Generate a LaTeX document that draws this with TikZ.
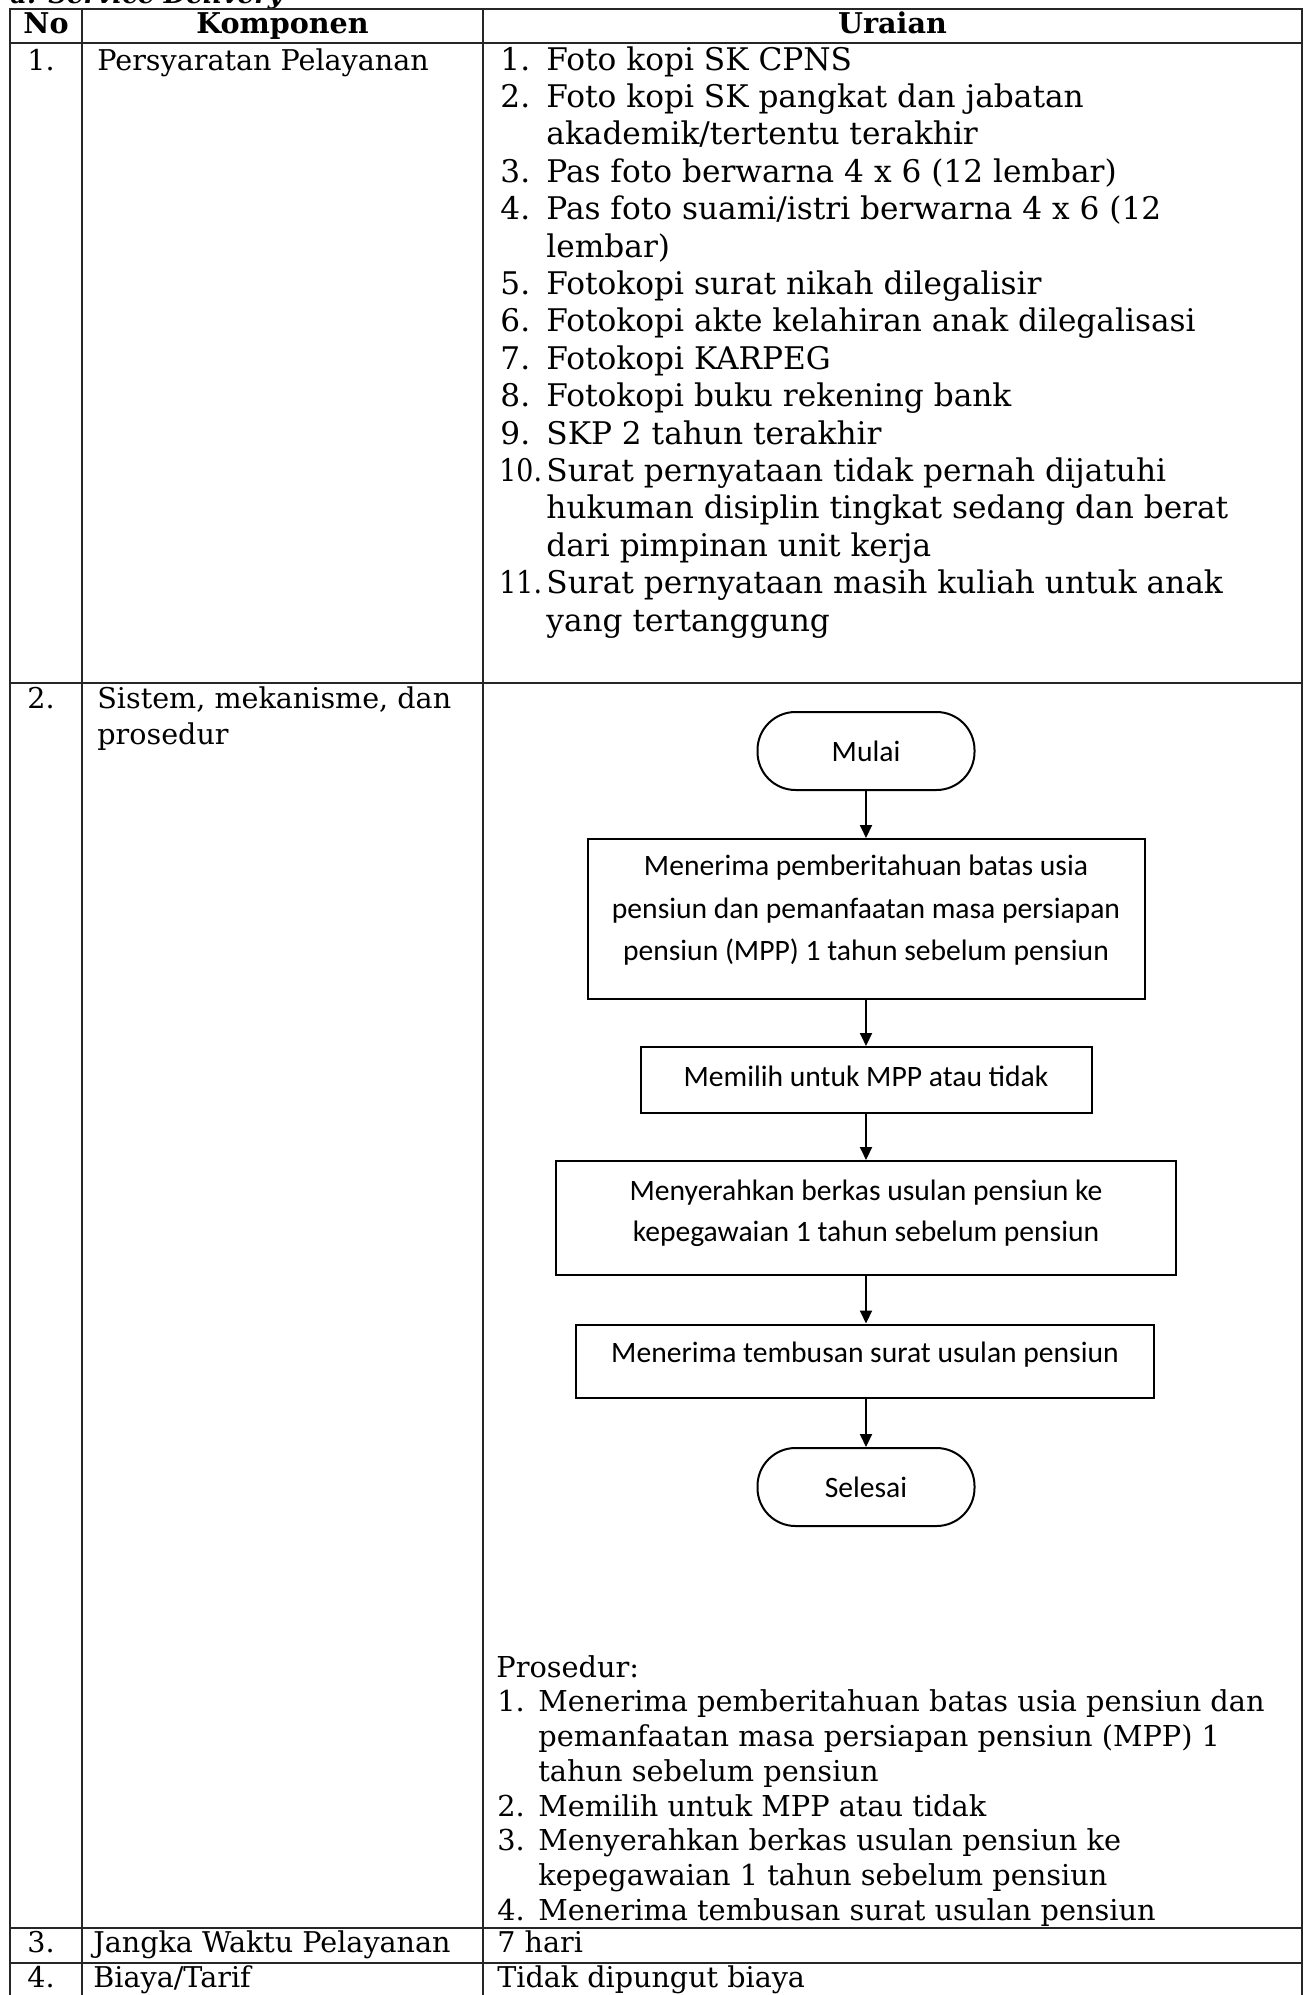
\documentclass[tikz,border=0pt]{standalone}
\usepackage{fontspec}
\usepackage{graphicx}
\setmainfont{DejaVu Serif}
\newfontfamily\flowfont{Carlito}
\usetikzlibrary{arrows.meta}

\begin{document}
\begin{tikzpicture}[x=0.5pt,y=-0.5pt,
  grid/.style={line width=1.1pt, draw=black!85},
  body/.style={inner sep=0pt, anchor=mid west, font=\fontsize{14.3}{18}\selectfont},
  list/.style={inner sep=0pt, anchor=mid west, font=\fontsize{15.6}{18.7}\selectfont},
  small/.style={inner sep=0pt, anchor=mid west, font=\fontsize{14.4}{17.35}\selectfont},
  head/.style={inner sep=0pt, anchor=mid, font=\bfseries\fontsize{14.3}{18}\selectfont},
  fbox/.style={draw, line width=1pt, inner sep=0pt, align=center,
    font=\flowfont\fontsize{14.8}{21.25}\selectfont},
  term/.style={fbox, rounded corners=19pt, minimum width=108.5pt, minimum height=39pt},
  flow/.style={line width=1pt, -{Triangle[length=6.5pt,width=6pt]}}]

\useasboundingbox (0,0) rectangle (1306,1995);

% section title, cut off by the page edge
\node[anchor=base west, inner sep=0pt, font=\bfseries\itshape\fontsize{13}{15}\selectfont]
  (title) at (10,4) {a. Service Delivery};

% table rules
\draw[grid] (10,1995) -- (10,9) -- (1302,9) -- (1302,1995);
\draw[grid] (82,9) -- (82,1995);
\draw[grid] (483,9) -- (483,1995);
\foreach \yy in {43,683,1928,1963}
  \draw[grid] (10,\yy) -- (1302,\yy);

% header
\node[head] (hNo) at (46,28) {No};
\node[head] (hKomp) at (282.5,28) {Komponen};
\node[head] (hUr) at (892.5,28) {Uraian};

% row 1: requirements
\node[body] (no1) at (27,65) {1.};
\node[body] (komp1) at (97,65) {Persyaratan Pelayanan};
\foreach \k/\n [count=\i] in {0/1, 1/2, 3/3, 4/4, 6/5, 7/6, 8/7, 9/8, 10/9}
  \node[list] (reqn\i) at (500,65+37.4*\k) {\n.};
\node[list] (reqn10) at (499,65+37.4*11) {\scalebox{0.86}[1]{10.}};
\node[list] (reqn11) at (499,65+37.4*14) {\scalebox{0.86}[1]{11.}};
\foreach \k/\t [count=\i] in {
  0/{Foto kopi SK CPNS},
  1/{Foto kopi SK pangkat dan jabatan},
  2/{akademik/tertentu terakhir},
  3/{Pas foto berwarna 4 x 6 (12 lembar)},
  4/{Pas foto suami/istri berwarna 4 x 6 (12},
  5/{lembar)},
  6/{Fotokopi surat nikah dilegalisir},
  7/{Fotokopi akte kelahiran anak dilegalisasi},
  8/{Fotokopi KARPEG},
  9/{Fotokopi buku rekening bank},
  10/{SKP 2 tahun terakhir},
  11/{Surat pernyataan tidak pernah dijatuhi},
  12/{hukuman disiplin tingkat sedang dan berat},
  13/{dari pimpinan unit kerja},
  14/{Surat pernyataan masih kuliah untuk anak},
  15/{yang tertanggung}}
  \node[list] (req\i) at (546,65+37.4*\k) {\t};

% row 2: system, mechanism and procedure
\node[body] (no2) at (27,703) {2.};
\node[body] (komp2a) at (97,703) {Sistem, mekanisme, dan};
\node[body] (komp2b) at (97,739) {prosedur};

% flowchart
\node[term] (mulai) at (866,751) {Mulai};
\node[fbox, minimum width=278.5pt, minimum height=80pt] (s1) at (866,919)
  {Menerima pemberitahuan batas usia\\pensiun dan pemanfaatan masa persiapan\\pensiun (MPP) 1 tahun sebelum pensiun\rule[-11pt]{0pt}{0pt}};
\node[fbox, minimum width=225.5pt, minimum height=33pt] (s2) at (866,1080)
  {Memilih untuk MPP atau tidak\rule[-4pt]{0pt}{0pt}};
\node[fbox, minimum width=310pt, minimum height=57pt,
  font=\flowfont\fontsize{14.8}{20.5}\selectfont] (s3) at (866,1218)
  {Menyerahkan berkas usulan pensiun ke\\kepegawaian 1 tahun sebelum pensiun\rule[-7.5pt]{0pt}{0pt}};
\node[fbox, minimum width=289pt, minimum height=36.5pt] (s4) at (865,1361)
  {Menerima tembusan surat usulan pensiun\rule[-8.5pt]{0pt}{0pt}};
\node[term] (selesai) at (866,1487) {Selesai};

\draw[flow] (mulai) -- (s1);
\draw[flow] (s1) -- (s2);
\draw[flow] (s2) -- (s3);
\draw[flow] (s3.south) -- (s3.south |- s4.north);
\draw[flow] (s4.south -| selesai) -- (selesai);

% procedure list
\node[small] (pros) at (496,1672) {Prosedur:};
\foreach \k/\n [count=\i] in {1/1, 4/2, 5/3, 7/4}
  \node[small] (prosn\i) at (497,1672+34.7*\k) {\n.};
\foreach \k/\t [count=\i] in {
  1/{Menerima pemberitahuan batas usia pensiun dan},
  2/{pemanfaatan masa persiapan pensiun (MPP) 1},
  3/{tahun sebelum pensiun},
  4/{Memilih untuk MPP atau tidak},
  5/{Menyerahkan berkas usulan pensiun ke},
  6/{kepegawaian 1 tahun sebelum pensiun},
  7/{Menerima tembusan surat usulan pensiun}}
  \node[small] (prost\i) at (538,1672+34.7*\k) {\t};

% rows 3 and 4
\node[body] (no3) at (27,1947) {3.};
\node[body] (komp3) at (93,1947) {Jangka Waktu Pelayanan};
\node[body] (ur3) at (497,1947) {7 hari};
\node[body] (no4) at (27,1982) {4.};
\node[body] (komp4) at (93,1982) {Biaya/Tarif};
\node[body] (ur4) at (497,1982) {Tidak dipungut biaya};
\end{tikzpicture}
\end{document}
